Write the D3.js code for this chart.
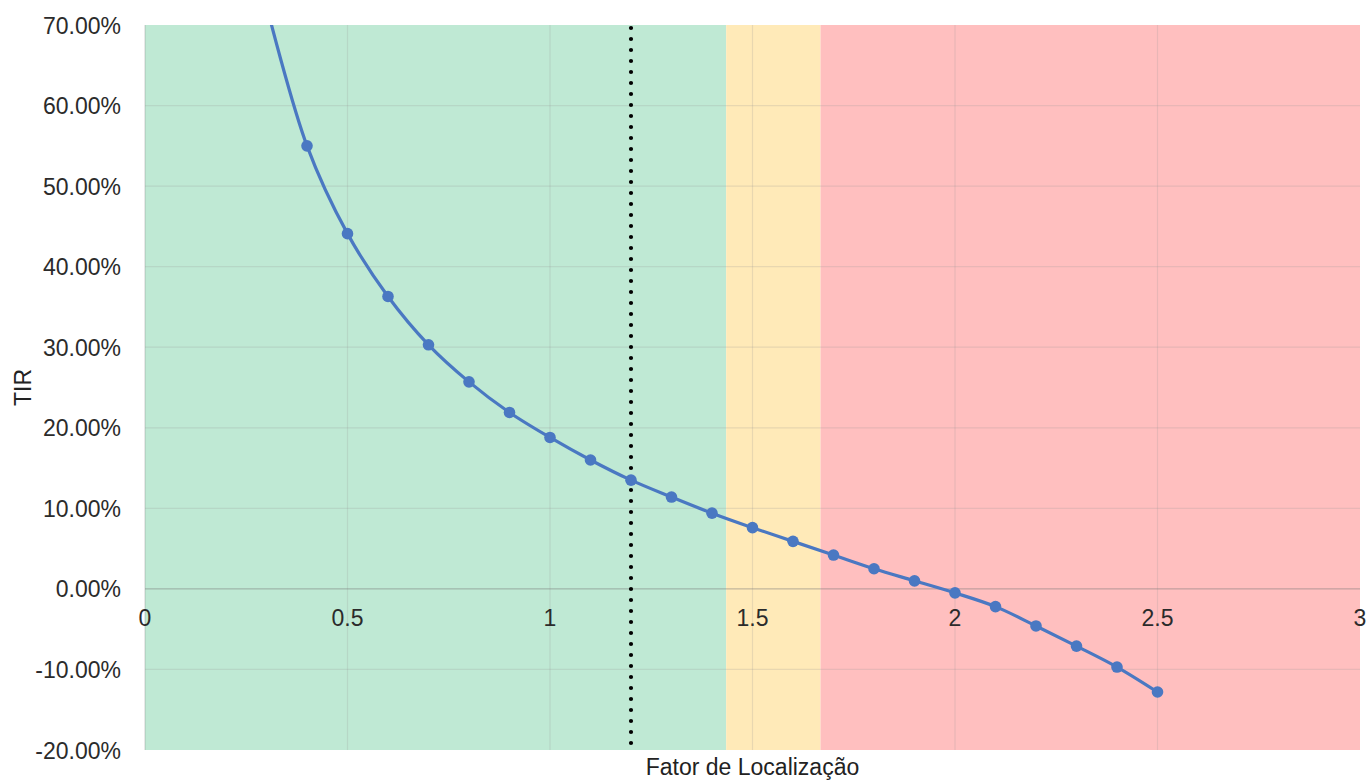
<!DOCTYPE html>
<html>
<head>
<meta charset="utf-8">
<script src="https://cdn.jsdelivr.net/npm/d3@7"></script>
<style>
  html, body { margin: 0; padding: 0; background: #ffffff; }
  svg { display: block; font-family: "Liberation Sans", Arial, sans-serif; }
</style>
</head>
<body>
<svg id="chart" width="1369" height="783"></svg>
<script>
// Location factor vs. IRR
const fator = [0.3, 0.4, 0.5, 0.6, 0.7, 0.8, 0.9, 1.0, 1.1, 1.2, 1.3, 1.4, 1.5, 1.6, 1.7, 1.8, 1.9, 2.0, 2.1, 2.2, 2.3, 2.4, 2.5];
const tir = [0.724, 0.550, 0.441, 0.363, 0.303, 0.257, 0.219, 0.188, 0.160, 0.135, 0.114, 0.094, 0.076, 0.059, 0.042, 0.025, 0.010, -0.005, -0.022, -0.046, -0.071, -0.097, -0.128];

// Zones along the x axis
const zoneStarts = [0, 1.435, 1.668];
const zoneEnds = [1.435, 1.668, 3];
const zoneColors = ["#bfe9d4", "#ffeab8", "#ffbfbf"];

const referenceX = 1.2;

const xTicks = [0, 0.5, 1, 1.5, 2, 2.5, 3];
const yTicks = [-0.2, -0.1, 0, 0.1, 0.2, 0.3, 0.4, 0.5, 0.6, 0.7];

const xTitle = "Fator de Localização";
const yTitle = "TIR";

const svg = d3.select("#chart");
const margin = { left: 145, right: 1360, top: 25, bottom: 750 };

const x = d3.scaleLinear().domain([0, 3]).range([margin.left, margin.right]);
const y = d3.scaleLinear().domain([-0.2, 0.7]).range([margin.bottom, margin.top]);

svg.append("defs").append("clipPath").attr("id", "plotClip")
  .append("rect")
  .attr("x", margin.left).attr("y", margin.top)
  .attr("width", margin.right - margin.left)
  .attr("height", margin.bottom - margin.top);

// Zone bands
svg.append("g").selectAll("rect")
  .data(zoneStarts.map((s, i) => ({ s, e: zoneEnds[i], c: zoneColors[i] })))
  .join("rect")
  .attr("x", d => x(d.s))
  .attr("y", margin.top)
  .attr("width", d => x(d.e) - x(d.s))
  .attr("height", margin.bottom - margin.top)
  .attr("fill", d => d.c);

// Gridlines
const grid = svg.append("g");
grid.selectAll("line.v")
  .data(xTicks.filter(t => t > 0 && t < 3))
  .join("line")
  .attr("class", "v")
  .attr("x1", d => x(d)).attr("x2", d => x(d))
  .attr("y1", margin.top).attr("y2", margin.bottom)
  .attr("stroke", "rgba(150,150,150,0.22)").attr("stroke-width", 1.2);
grid.selectAll("line.h")
  .data(yTicks.filter(t => t !== 0 && t > -0.2 && t < 0.7))
  .join("line")
  .attr("class", "h")
  .attr("x1", margin.left).attr("x2", margin.right)
  .attr("y1", d => y(d)).attr("y2", d => y(d))
  .attr("stroke", "rgba(150,150,150,0.22)").attr("stroke-width", 1.2);

// Zero line
svg.append("line")
  .attr("x1", margin.left).attr("x2", margin.right)
  .attr("y1", y(0)).attr("y2", y(0))
  .attr("stroke", "rgba(120,120,120,0.45)").attr("stroke-width", 1.3);

// Left axis line
svg.append("line")
  .attr("x1", margin.left).attr("x2", margin.left)
  .attr("y1", margin.top).attr("y2", margin.bottom)
  .attr("stroke", "rgba(120,120,120,0.35)").attr("stroke-width", 1);

// Reference dotted line
svg.append("line")
  .attr("x1", x(referenceX)).attr("x2", x(referenceX))
  .attr("y1", margin.top + 3).attr("y2", margin.bottom)
  .attr("stroke", "#000").attr("stroke-width", 4.2)
  .attr("stroke-linecap", "round")
  .attr("stroke-dasharray", "0 11");

// Series
const pts = fator.map((f, i) => [f, tir[i]]);
const plot = svg.append("g").attr("clip-path", "url(#plotClip)");
plot.append("path")
  .datum(pts)
  .attr("d", d3.line().x(d => x(d[0])).y(d => y(d[1])).curve(d3.curveCatmullRom.alpha(0.5)))
  .attr("fill", "none")
  .attr("stroke", "#4a78c2")
  .attr("stroke-width", 3.2);
plot.selectAll("circle")
  .data(pts)
  .join("circle")
  .attr("cx", d => x(d[0]))
  .attr("cy", d => y(d[1]))
  .attr("r", 5.8)
  .attr("fill", "#4a78c2");

// Y tick labels (plain hyphen for negatives)
const fmt = v => d3.format(".2%")(v).replace("\u2212", "-");
svg.append("g").selectAll("text")
  .data(yTicks)
  .join("text")
  .attr("x", 121)
  .attr("y", d => y(d) + 8.5)
  .attr("text-anchor", "end")
  .attr("font-size", 23)
  .attr("fill", "#2b2b2b")
  .text(d => fmt(d));

// X tick labels (below the zero line)
svg.append("g").selectAll("text")
  .data(xTicks)
  .join("text")
  .attr("x", d => x(d))
  .attr("y", y(0) + 37)
  .attr("text-anchor", "middle")
  .attr("font-size", 23)
  .attr("fill", "#2b2b2b")
  .text(d => d3.format("")(d));

// Axis titles
svg.append("text")
  .attr("x", x(1.5)).attr("y", 775)
  .attr("text-anchor", "middle")
  .attr("font-size", 23)
  .attr("fill", "#222")
  .text(xTitle);
svg.append("text")
  .attr("transform", `translate(31, ${y(0.25)}) rotate(-90)`)
  .attr("text-anchor", "middle")
  .attr("font-size", 23)
  .attr("fill", "#222")
  .text(yTitle);
</script>
</body>
</html>
